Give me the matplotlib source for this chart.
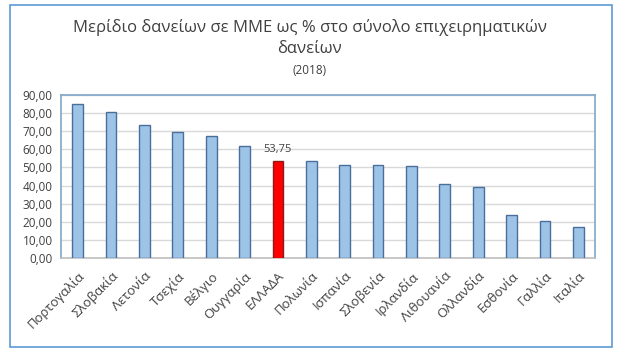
import numpy as np
import matplotlib.pyplot as plt
from matplotlib.patches import Rectangle
from matplotlib.ticker import FuncFormatter

countries = ['Πορτογαλία', 'Σλοβακία', 'Λετονία', 'Τσεχία', 'Βέλγιο', 'Ουγγαρία',
             'ΕΛΛΑΔΑ', 'Πολωνία', 'Ισπανία', 'Σλοβενία', 'Ιρλανδία', 'Λιθουανία',
             'Ολλανδία', 'Εσθονία', 'Γαλλία', 'Ιταλία']
values = [85.2, 80.8, 73.6, 69.6, 67.2, 61.8, 53.75, 53.7, 51.3, 51.2, 51.0,
          40.7, 39.2, 23.7, 20.2, 17.3]
highlight = 'ΕΛΛΑΔΑ'

plt.rcParams['font.family'] = ['Open Sans', 'DejaVu Sans']

fig = plt.figure(figsize=(6.2, 3.54), dpi=100)
ax = fig.add_axes([61/620, 1-258/354, 534/620, 163/354])

x = np.arange(len(countries))
face = ['#ff0000' if c == highlight else '#9dc3e6' for c in countries]
edge = ['#8b1a1a' if c == highlight else '#4a6f9c' for c in countries]
ax.bar(x, values, width=0.32, color=face, edgecolor=edge, linewidth=1.0, zorder=3)

i = countries.index(highlight)
ax.text(i, values[i] + 3, f'{values[i]:.2f}'.replace('.', ','), ha='center', va='bottom',
        fontsize=8, color='#404040')

ax.set_xlim(-0.5, len(countries) - 0.5)
ax.set_ylim(0, 90)
ax.set_yticks(np.arange(0, 91, 10))
ax.yaxis.set_major_formatter(FuncFormatter(lambda v, p: f'{v:.2f}'.replace('.', ',')))
ax.grid(axis='y', color='#d9d9d9', linewidth=1, zorder=0)
ax.set_xticks(x)
ax.set_xticklabels(countries, rotation=45, ha='right', rotation_mode='anchor')
ax.tick_params(axis='both', length=0, labelsize=8.5, colors='#404040')
ax.tick_params(axis='y', pad=6)
ax.tick_params(axis='x', pad=8, labelsize=9.5)
for s in ax.spines.values():
    s.set_color('#7fa7c9')
    s.set_linewidth(1.2)
ax.spines['bottom'].set_color('#bfbfbf')

fig.text(0.5, 1-28/354, 'Μερίδιο δανείων σε ΜΜΕ ως % στο σύνολο επιχειρηματικών',
         ha='center', va='center', fontsize=12, color='#404040')
fig.text(0.5, 1-49/354, 'δανείων', ha='center', va='center', fontsize=12, color='#404040')
fig.text(0.5, 1-70/354, '(2018)', ha='center', va='center', fontsize=8.5, color='#404040')

fig.patches.append(Rectangle((10/620, 1-347/354), 602/620, 342/354, transform=fig.transFigure,
                             fill=False, edgecolor='#5b9bd5', linewidth=1.2))

fig.savefig('out.png', dpi=100)
